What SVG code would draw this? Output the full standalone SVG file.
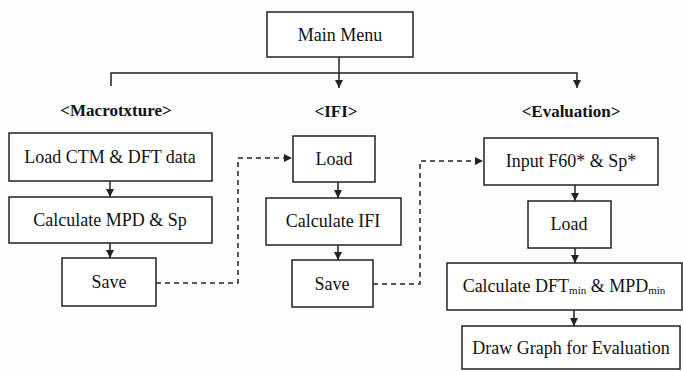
<svg xmlns="http://www.w3.org/2000/svg" width="683" height="371" viewBox="0 0 683 371">
<style>
.box{fill:#fff;stroke:#222;stroke-width:1.5}
.t{font-family:'Liberation Serif','DejaVu Serif',serif;font-size:18px;fill:#111;text-anchor:middle;dominant-baseline:central}
.lb{font-family:'Liberation Serif','DejaVu Serif',serif;font-size:17px;font-weight:bold;fill:#111;text-anchor:middle;dominant-baseline:central}
.ln{fill:none;stroke:#222;stroke-width:1.5}
.dash{fill:none;stroke:#222;stroke-width:1.5;stroke-dasharray:5,4}
</style>
<defs>
<marker id="ah" viewBox="0 0 10 10" refX="10" refY="5" markerWidth="8" markerHeight="8" markerUnits="userSpaceOnUse" orient="auto">
<path d="M0,0 L10,5 L0,10 z" fill="#222"/>
</marker>
</defs>
<rect width="683" height="371" fill="#fdfdfd"/>
<g id="connectors">
<line class="ln" x1="339" y1="57" x2="339" y2="88" marker-end="url(#ah)"/>
<polyline class="ln" points="111,86 111,73 577,73 577,88" marker-end="url(#ah)"/>
<line class="ln" x1="110" y1="181" x2="110" y2="197" marker-end="url(#ah)"/>
<line class="ln" x1="110" y1="243" x2="110" y2="258" marker-end="url(#ah)"/>
<line class="ln" x1="338" y1="182" x2="338" y2="198" marker-end="url(#ah)"/>
<line class="ln" x1="338" y1="245" x2="338" y2="260" marker-end="url(#ah)"/>
<line class="ln" x1="575" y1="185" x2="575" y2="201" marker-end="url(#ah)"/>
<line class="ln" x1="575" y1="248" x2="575" y2="263" marker-end="url(#ah)"/>
<line class="ln" x1="574" y1="310" x2="574" y2="326" marker-end="url(#ah)"/>
<polyline class="dash" points="156,283 238,283 238,158 292,158" marker-end="url(#ah)"/>
<polyline class="dash" points="373,284 420,284 420,161 483,161" marker-end="url(#ah)"/>
</g>
<g font-family="Liberation Serif, DejaVu Serif, serif">
<g id="main-menu">
<rect class="box" x="267" y="12" width="146" height="45"/>
<text class="t" x="340" y="35">Main Menu</text>
</g>
<g id="label-macrotexture"><text class="lb" x="116" y="110">&lt;Macrotxture&gt;</text></g>
<g id="label-ifi"><text class="lb" x="336" y="111">&lt;IFI&gt;</text></g>
<g id="label-evaluation"><text class="lb" x="571" y="111">&lt;Evaluation&gt;</text></g>
<g id="load-ctm">
<rect class="box" x="9" y="133" width="203" height="48"/>
<text class="t" x="110" y="157">Load CTM &amp; DFT data</text>
</g>
<g id="calc-mpd">
<rect class="box" x="9" y="197" width="203" height="46"/>
<text class="t" x="110" y="220">Calculate MPD &amp; Sp</text>
</g>
<g id="save-1">
<rect class="box" x="62" y="258" width="94" height="48"/>
<text class="t" x="109" y="282">Save</text>
</g>
<g id="load-ifi">
<rect class="box" x="293" y="136" width="82" height="46"/>
<text class="t" x="334" y="159">Load</text>
</g>
<g id="calc-ifi">
<rect class="box" x="266" y="198" width="135" height="47"/>
<text class="t" x="333" y="221">Calculate IFI</text>
</g>
<g id="save-2">
<rect class="box" x="292" y="260" width="81" height="47"/>
<text class="t" x="332" y="284">Save</text>
</g>
<g id="input-f60">
<rect class="box" x="484" y="138" width="174" height="47"/>
<text class="t" x="571" y="161">Input F60* &amp; Sp*</text>
</g>
<g id="load-eval">
<rect class="box" x="528" y="201" width="83" height="47"/>
<text class="t" x="569" y="224">Load</text>
</g>
<g id="calc-dft">
<rect class="box" x="447" y="263" width="235" height="47"/>
<text class="t" x="564" y="286">Calculate DFT<tspan font-size="11" dy="4">min</tspan><tspan dy="-4"> &amp; MPD</tspan><tspan font-size="11" dy="4">min</tspan></text>
</g>
<g id="draw-graph">
<rect class="box" x="462" y="326" width="218" height="43"/>
<text class="t" x="571" y="348">Draw Graph for Evaluation</text>
</g>
</g>
</svg>
